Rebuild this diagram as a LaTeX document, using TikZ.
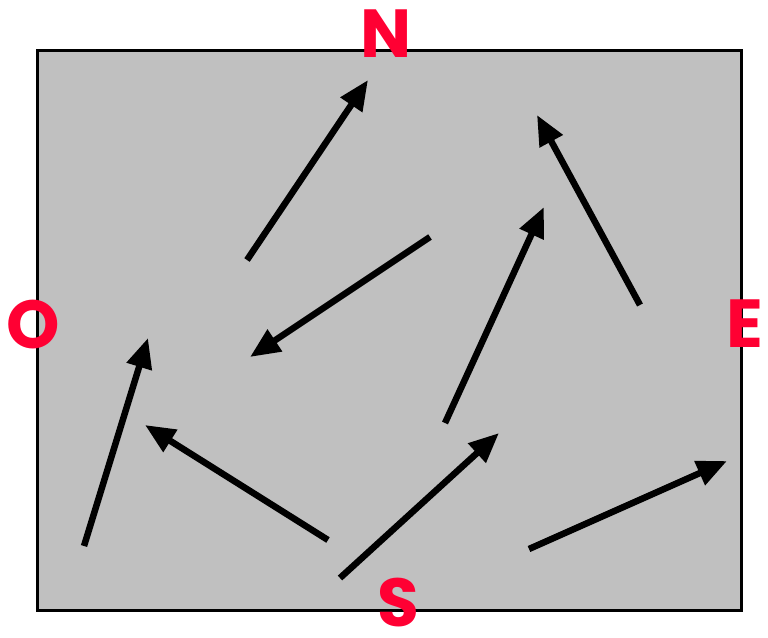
\documentclass[tikz,border=0pt]{standalone}
\usepackage{fontspec}
\setmainfont{Poppins}
\usetikzlibrary{arrows.meta}
\definecolor{lred}{HTML}{FF0033}
\definecolor{boxgray}{HTML}{C0C0C0}
\tikzset{
  vec/.style={line width=6.5pt, -{Triangle[length=30pt,width=25pt]}},
  dirlabel/.style={text=lred, font=\fontsize{68}{68}\selectfont\bfseries, inner sep=0pt, anchor=center},
}
\begin{document}
\begin{tikzpicture}[x=1pt,y=-1pt]
\useasboundingbox (0,0) rectangle (768,637);
\node[draw=black, line width=2.5pt, fill=boxgray, minimum width=704pt, minimum height=560pt, inner sep=0pt, anchor=north west] (box) at (36,49) {};
\coordinate (a1) at (247,260); \coordinate (b1) at (368,80);
\coordinate (a2) at (430,237); \coordinate (b2) at (250,357);
\coordinate (a3) at (640,305); \coordinate (b3) at (537,115);
\coordinate (a4) at (445,423); \coordinate (b4) at (544,207);
\coordinate (a5) at (84,546);  \coordinate (b5) at (148,338);
\coordinate (a6) at (328,540); \coordinate (b6) at (145,425);
\coordinate (a7) at (340,578); \coordinate (b7) at (499,433);
\coordinate (a8) at (529,549); \coordinate (b8) at (727,461);
\foreach \i in {1,...,8} \draw[vec] (a\i) -- (b\i);
\node[dirlabel] (N) at (386,34) {N};
\node[dirlabel] (O) at (33,325) {O};
\node[dirlabel] (E) at (745,324) {E};
\node[dirlabel] (S) at (398,603) {S};
\end{tikzpicture}
\end{document}
